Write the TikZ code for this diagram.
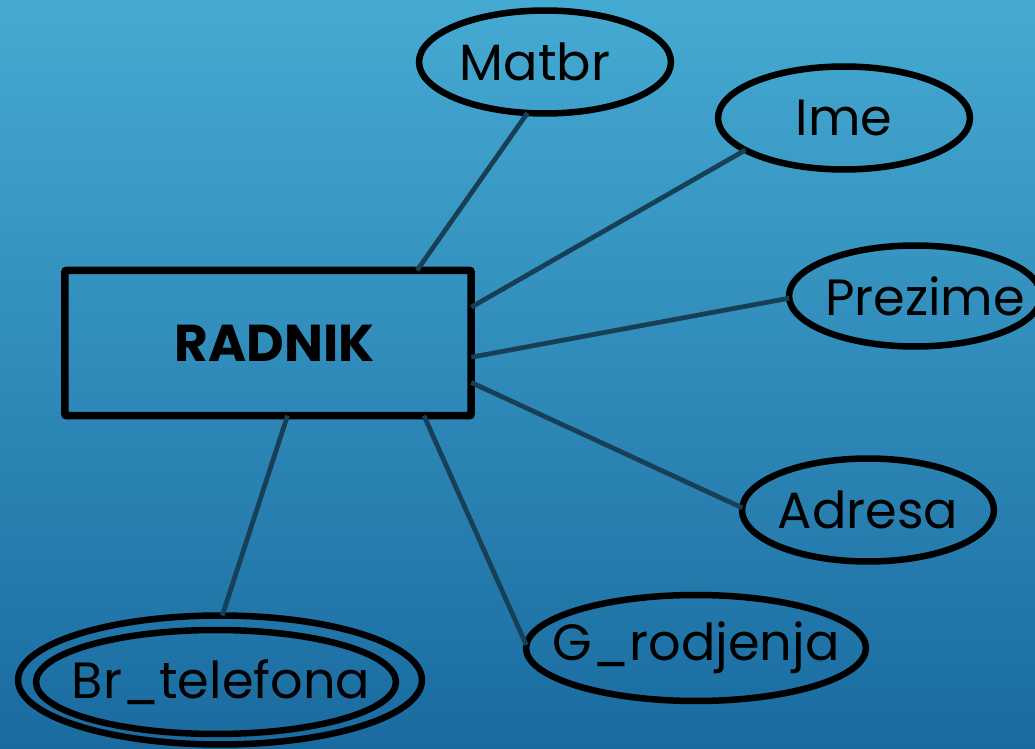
\documentclass[tikz,border=0pt]{standalone}
\usepackage{fontspec}
\setmainfont{Poppins}
\usetikzlibrary{shapes.geometric}

\definecolor{bgtop}{HTML}{45AAD2}
\definecolor{bgbot}{HTML}{1A6BA0}
\definecolor{linkcol}{HTML}{173F56}

\begin{document}
\begin{tikzpicture}[x=0.02cm,y=-0.02cm,
  entity/.style={rectangle,draw,line width=0.15cm,rounded corners=0.04cm,inner sep=0pt,outer sep=0pt,
    minimum width=8.13cm,minimum height=2.91cm},
  entitytext/.style={font=\fontsize{29.5}{34}\selectfont\bfseries,inner sep=0pt},
  attr/.style={ellipse,draw,line width=0.13cm,inner sep=0pt,outer sep=0pt,minimum width=5.04cm,minimum height=2.06cm},
  attrtext/.style={font=\fontsize{29}{34}\selectfont,inner sep=0pt},
  link/.style={draw=linkcol,line width=0.095cm}]

  \useasboundingbox (0,0) rectangle (1035,749);
  \fill[top color=bgtop,bottom color=bgbot] (0,0) rectangle (1035,749);

  % entity and its attributes
  \node[entity,label={[entitytext,xshift=0.13cm]center:RADNIK}] (radnik) at (268,343) {};
  \node[attr,label={[attrtext,xshift=-0.2cm]center:Matbr}] (matbr) at (545,62) {};
  \node[attr,label={[attrtext]center:Ime}] (ime) at (844,118) {};
  \node[attr,minimum height=2.02cm,label={[attrtext,xshift=0.2cm]center:Prezime}] (prezime) at (915,296) {};
  \node[attr,label={[attrtext]center:Adresa}] (adresa) at (868,510) {};
  \node[attr,minimum width=6.8cm,minimum height=2.12cm,label={[attrtext]center:G\_rodjenja}] (grodj) at (696,648) {};
  % multivalued attribute
  \node[attr,minimum width=8.08cm,minimum height=2.58cm] (brtel) at (220,680) {};
  \node[attr,minimum width=7.2cm,minimum height=2.08cm,label={[attrtext,xshift=0.1cm]center:Br\_telefona}] (brtelin) at (216,682) {};

  \path[link]
    (radnik.26) edge (matbr.-109)
    (radnik.10) edge (ime.-162)
    (radnik.-4) edge (prezime.181)
    (radnik.-11) edge (adresa.179)
    (radnik.-25) edge (grodj.179)
    (radnik.-75) edge (brtel.88);
\end{tikzpicture}
\end{document}
